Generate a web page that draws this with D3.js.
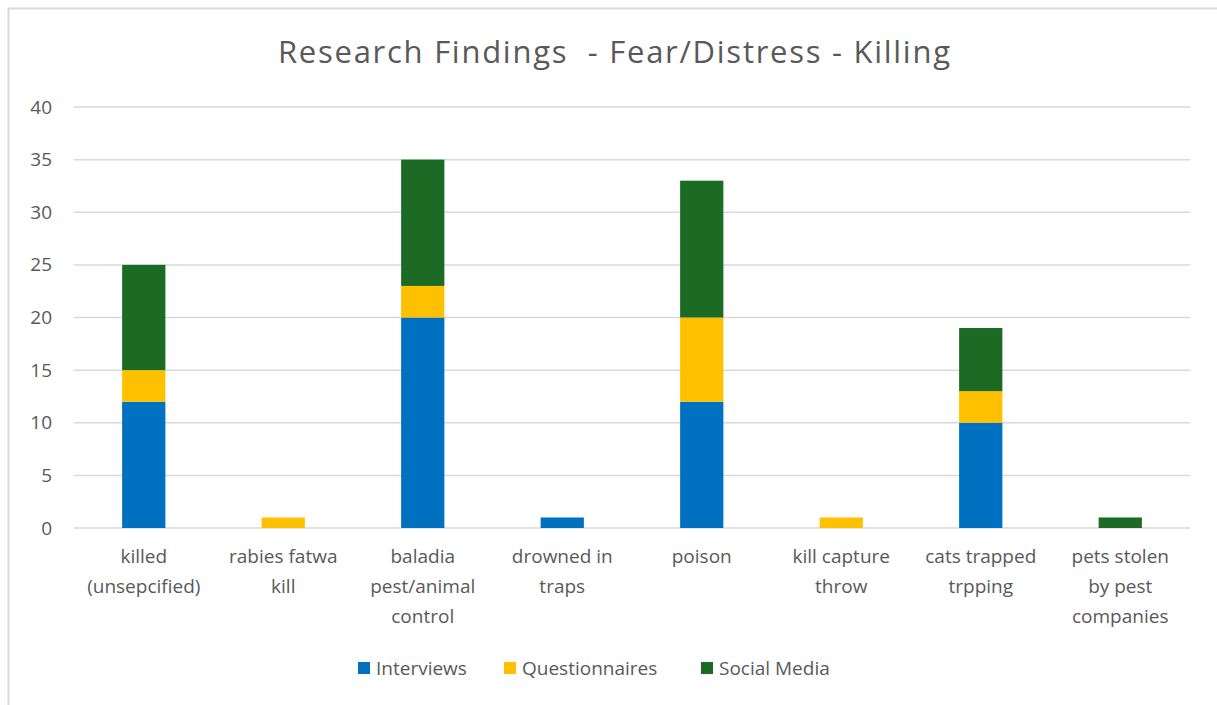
<!DOCTYPE html>
<html>
<head>
<meta charset="utf-8">
<script src="https://cdn.jsdelivr.net/npm/d3@7"></script>
<style>
  html, body { margin: 0; padding: 0; background: #fff; }
  svg { display: block; }
  text { font-family: "Open Sans", "Noto Sans", sans-serif; fill: #595959; }
</style>
</head>
<body>
<svg id="chart" width="1217" height="705"></svg>
<script>
// Categories (each label split into its wrapped lines)
const categories = [
  ["killed", "(unsepcified)"],
  ["rabies fatwa", "kill"],
  ["baladia", "pest/animal", "control"],
  ["drowned in", "traps"],
  ["poison"],
  ["kill capture", "throw"],
  ["cats trapped", "trpping"],
  ["pets stolen", "by pest", "companies"]
];

// Series values, one per category
const interviews     = [12, 0, 20, 1, 12, 0, 10, 0];
const questionnaires = [3, 1, 3, 0, 8, 1, 3, 0];
const socialMedia    = [10, 0, 12, 0, 13, 0, 6, 1];

const seriesNames  = ["Interviews", "Questionnaires", "Social Media"];
const seriesColors = ["#0070C0", "#FFC000", "#1C6B25"];

const yTicks = [0, 5, 10, 15, 20, 25, 30, 35, 40];

const svg = d3.select("#chart");
const W = 1217, H = 705;

// outer chart frame
svg.append("rect")
  .attr("x", 8.5).attr("y", 8.5)
  .attr("width", W + 20).attr("height", H + 20)
  .attr("fill", "#fff").attr("stroke", "#d9d9d9").attr("stroke-width", 2);

const plot = { left: 74, right: 1190, top: 107, bottom: 528 };

const x = d3.scaleBand()
  .domain(d3.range(categories.length))
  .range([plot.left, plot.right])
  .paddingInner(0.69)
  .paddingOuter(0.345);

const y = d3.scaleLinear().domain([0, 40]).range([plot.bottom, plot.top]);

// title
svg.append("text")
  .attr("x", 278).attr("y", 63)
  .attr("textLength", 672)
  .attr("lengthAdjust", "spacing")
  .style("font-size", "31px")
  .style("white-space", "pre")
  .attr("xml:space", "preserve")
  .text("Research Findings  - Fear/Distress - Killing");

// horizontal gridlines
svg.append("g")
  .selectAll("line")
  .data(yTicks)
  .join("line")
  .attr("x1", plot.left).attr("x2", plot.right)
  .attr("y1", d => y(d)).attr("y2", d => y(d))
  .attr("stroke", "#d9d9d9").attr("stroke-width", 1.5);

// y axis labels
const yAxis = d3.axisLeft(y).tickValues(yTicks).tickSize(0).tickPadding(0);
const gy = svg.append("g").attr("transform", `translate(${52},0)`).call(yAxis);
gy.select(".domain").remove();
gy.selectAll("text")
  .style("font-size", "19px")
  .style("font-family", "'Open Sans', sans-serif")
  .attr("fill", "#595959");

// stacked bars
const rows = categories.map((c, i) => ({
  i,
  Interviews: interviews[i],
  Questionnaires: questionnaires[i],
  "Social Media": socialMedia[i]
}));
const stack = d3.stack().keys(seriesNames)(rows);

svg.append("g")
  .selectAll("g")
  .data(stack)
  .join("g")
  .attr("fill", (d, k) => seriesColors[k])
  .selectAll("rect")
  .data(d => d.filter(p => p[1] - p[0] > 0))
  .join("rect")
  .attr("x", d => x(d.data.i))
  .attr("width", x.bandwidth())
  .attr("y", d => y(d[1]))
  .attr("height", d => y(d[0]) - y(d[1]));

// x axis category labels
const gx = svg.append("g");
categories.forEach((lines, i) => {
  const t = gx.append("text")
    .attr("x", x(i) + x.bandwidth() / 2)
    .attr("y", 563)
    .attr("text-anchor", "middle")
    .style("font-size", "19px");
  lines.forEach((ln, j) => {
    t.append("tspan")
      .attr("x", x(i) + x.bandwidth() / 2)
      .attr("dy", j === 0 ? 0 : 30)
      .text(ln);
  });
});

// legend
const legendX = [358, 504, 701];
const lg = svg.append("g");
seriesNames.forEach((name, k) => {
  lg.append("rect")
    .attr("x", legendX[k]).attr("y", 662)
    .attr("width", 12).attr("height", 12)
    .attr("fill", seriesColors[k]);
  lg.append("text")
    .attr("x", legendX[k] + 18).attr("y", 675)
    .style("font-size", "19px")
    .text(name);
});
</script>
</body>
</html>
